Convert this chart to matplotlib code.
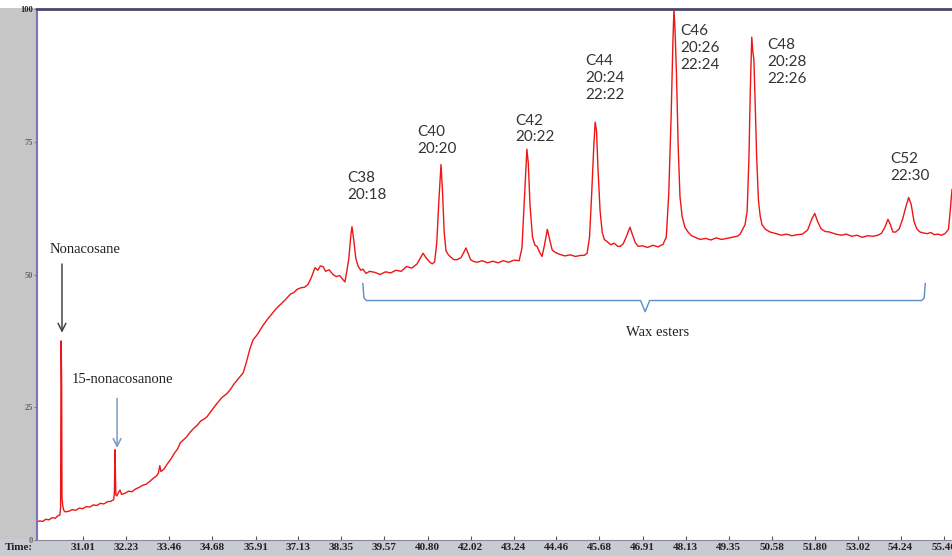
import matplotlib
matplotlib.use('Agg')
import matplotlib.pyplot as plt
from matplotlib.patches import Rectangle

# chromatogram trace (retention time in min, relative abundance)
time = [29.70, 29.78, 29.86, 29.95, 30.04, 30.13, 30.22, 30.30, 30.35,
        30.37, 30.385, 30.40, 30.41, 30.43, 30.46, 30.50,
        30.6, 30.7, 30.8, 30.9, 31.0, 31.1, 31.2, 31.3, 31.4, 31.5, 31.6, 31.7, 31.8, 31.88,
        31.90, 31.915, 31.93, 31.94, 31.97, 32.02, 32.06, 32.10, 32.2,
        32.3, 32.4, 32.5, 32.6, 32.7, 32.8, 32.9, 33.0, 33.1, 33.15, 33.19, 33.22, 33.3,
        33.4, 33.5, 33.6, 33.7, 33.77, 33.85, 33.95, 34.05, 34.15, 34.25, 34.35, 34.45, 34.53,
        34.65, 34.8, 34.95, 35.1, 35.19, 35.3, 35.45, 35.56, 35.65, 35.75, 35.84, 35.95,
        36.1, 36.24, 36.4, 36.5, 36.61, 36.75, 36.9, 37.0, 37.09, 37.2, 37.3, 37.4, 37.5,
        37.6, 37.68, 37.75, 37.83, 37.9, 38.0, 38.11, 38.2, 38.3, 38.4, 38.45,
        38.5, 38.56, 38.62, 38.65, 38.70, 38.76, 38.83, 38.9, 38.96, 39.05, 39.15, 39.3,
        39.45, 39.6, 39.75, 39.9, 40.05, 40.2, 40.35, 40.5, 40.6, 40.67, 40.75, 40.85, 40.93,
        41.0, 41.06, 41.12, 41.18, 41.22, 41.27, 41.32, 41.38, 41.45, 41.55, 41.64, 41.75,
        41.83, 41.89, 41.95, 42.02, 42.09, 42.2, 42.35, 42.5, 42.65, 42.8, 42.95, 43.1, 43.25,
        43.4, 43.48, 43.54, 43.59, 43.62, 43.66, 43.71, 43.78, 43.85, 43.91, 43.98, 44.05,
        44.12, 44.2, 44.27, 44.34, 44.42, 44.55, 44.7, 44.85, 45.0, 45.15, 45.25, 45.33,
        45.40, 45.46, 45.52, 45.56, 45.60, 45.64, 45.70, 45.76, 45.82, 45.9, 46.0, 46.1, 46.2,
        46.27, 46.36, 46.45, 46.55, 46.62, 46.7, 46.78, 46.9, 47.05, 47.2, 47.35, 47.49,
        47.58, 47.65, 47.72, 47.77, 47.80, 47.83, 47.87, 47.92, 47.97, 48.03, 48.11, 48.2,
        48.3, 48.4, 48.54, 48.7, 48.85, 49.0, 49.15, 49.3, 49.45, 49.6, 49.68, 49.75, 49.82,
        49.88, 49.93, 49.97, 50.01, 50.04, 50.07, 50.10, 50.15, 50.2, 50.25, 50.30, 50.4,
        50.53, 50.7, 50.85, 51.0, 51.15, 51.3, 51.45, 51.6, 51.72, 51.80, 51.88, 51.98, 52.1,
        52.22, 52.4, 52.55, 52.7, 52.85, 53.0, 53.15, 53.3, 53.45, 53.6, 53.7, 53.8, 53.88,
        53.95, 54.02, 54.1, 54.2, 54.3, 54.4, 54.47, 54.54, 54.62, 54.7, 54.79, 54.9, 55.0,
        55.1, 55.2, 55.3, 55.4, 55.5, 55.6, 55.65, 55.70]
abundance = [3.4, 3.6, 3.5, 3.9, 3.8, 4.2, 4.1, 4.6, 4.7,
             6.0, 37.5, 30.0, 8.0, 6.5, 5.6, 5.3,
             5.4, 5.7, 5.6, 6.0, 5.9, 6.3, 6.2, 6.6, 6.5, 6.9, 6.8, 7.2, 7.3, 7.6,
             9.0, 17.0, 12.0, 8.5, 8.3, 9.0, 9.4, 8.6, 8.8,
             9.2, 9.1, 9.6, 9.9, 10.3, 10.5, 11.0, 11.6, 12.1, 12.6, 14.0, 12.9, 13.3,
             14.3, 15.2, 16.3, 17.2, 18.3, 18.8, 19.4, 20.3, 21.0, 21.6, 22.4, 22.8, 23.2,
             24.3, 25.6, 26.8, 27.6, 28.3, 29.4, 30.6, 31.5, 33.5, 36.0, 37.7, 38.6,
             40.2, 41.5, 42.8, 43.6, 44.3, 45.2, 46.3, 46.6, 47.2, 47.5, 47.6, 48.1, 49.5,
             51.3, 50.8, 51.6, 51.5, 50.6, 50.9, 50.0, 49.6, 49.8, 49.0, 48.6,
             50.5, 53.0, 57.5, 59.0, 56.5, 53.0, 51.5, 50.8, 51.0, 50.2, 50.6, 50.4,
             50.0, 50.5, 50.3, 50.8, 50.6, 51.5, 51.2, 52.0, 53.2, 54.0, 53.2, 52.4, 52.0,
             52.4, 56.0, 64.0, 70.7, 66.0, 58.0, 54.5, 53.8, 53.3, 52.8, 52.8, 53.2,
             54.2, 55.0, 54.0, 52.8, 52.5, 52.3, 52.6, 52.2, 52.5, 52.2, 52.6, 52.3, 52.7,
             52.6, 55.0, 63.0, 70.0, 73.6, 71.0, 63.0, 57.0, 55.5, 55.3, 54.2, 53.4,
             55.5, 58.5, 56.5, 54.6, 54.2, 53.8, 53.5, 53.7, 53.4, 53.6, 53.6, 54.0,
             57.0, 65.0, 74.0, 78.7, 77.0, 70.0, 62.0, 58.0, 56.6, 56.2, 55.6, 55.9, 55.3,
             55.3, 55.8, 57.2, 58.9, 57.5, 56.0, 55.3, 55.4, 55.1, 55.5, 55.2, 55.7,
             57.0, 65.0, 80.0, 94.0, 100.0, 96.0, 88.0, 74.0, 64.7, 61.0, 58.9, 58.0,
             57.3, 57.0, 56.6, 56.8, 56.5, 56.9, 56.6, 56.8, 57.0, 57.2, 57.6, 58.5, 59.4,
             62.0, 72.0, 85.0, 94.7, 92.0, 90.5, 84.0, 72.0, 64.0, 61.0, 59.4, 58.5,
             58.0, 57.7, 57.4, 57.6, 57.3, 57.5, 57.6, 58.4, 60.5, 61.5, 60.0, 58.6, 58.1,
             58.0, 57.6, 57.4, 57.6, 57.2, 57.4, 57.0, 57.3, 57.2, 57.4, 57.8, 59.0, 60.4,
             59.4, 58.0, 58.0, 58.6, 60.5, 63.0, 64.5, 63.2, 60.0, 58.6, 58.0, 57.8, 57.7,
             57.9, 57.5, 57.6, 57.4, 57.7, 58.5, 62.0, 66.0]

x_ticks = [31.01, 32.23, 33.46, 34.68, 35.91, 37.13, 38.35, 39.57, 40.80, 42.02, 43.24,
           44.46, 45.68, 46.91, 48.13, 49.35, 50.58, 51.80, 53.02, 54.24, 55.46]
y_ticks = [0, 25, 50, 75, 100]

# peak labels: (text, left time, top abundance)
peak_labels = ['C38\n20:18', 'C40\n20:20', 'C42\n20:22', 'C44\n20:24\n22:22',
               'C46\n20:26\n22:24', 'C48\n20:28\n22:26', 'C52\n22:30']
peak_label_t = [38.51, 40.50, 43.28, 45.27, 47.97, 50.44, 53.94]
peak_label_y = [69.4, 78.2, 80.3, 91.5, 97.1, 94.5, 73.1]

fig = plt.figure(figsize=(9.52, 5.56), dpi=100)
fig.patch.set_facecolor('white')
# grey frame strips of the instrument software
fig.patches.append(Rectangle((0, 0), 37 / 952, 1 - 8 / 556, transform=fig.transFigure,
                             facecolor='#c6c6c6', edgecolor='none', zorder=-1))
fig.patches.append(Rectangle((0, 0), 1, 17 / 556, transform=fig.transFigure,
                             facecolor='#c8cbd2', edgecolor='none', zorder=-1))

ax = fig.add_axes([37 / 952, 1 - 540 / 556, 1 - 37 / 952, 531 / 556])
ax.plot(time, abundance, color='#ee1515', lw=1.0)
ax.set_xlim(29.70, 55.70)
ax.set_ylim(0, 100)

ax.set_xticks(x_ticks)
ax.set_xticklabels([f'{v:.2f}' for v in x_ticks], fontfamily='Liberation Serif',
                   fontweight='bold', fontsize=8, color='#222222')
ax.tick_params(axis='x', direction='in', length=3, pad=2, color='#555555')
ax.set_yticks(y_ticks)
ax.set_yticklabels([str(v) for v in y_ticks], fontfamily='Liberation Serif',
                   fontweight='bold', fontsize=6, color='#666666')
ax.tick_params(axis='y', direction='out', length=2, pad=1, color='#777777')
ax.get_yticklabels()[-1].set_color('#222222')

ax.spines['right'].set_visible(False)
ax.spines['top'].set_color('#4b4868')
ax.spines['top'].set_linewidth(2)
ax.spines['left'].set_color('#7c74b8')
ax.spines['left'].set_linewidth(1.5)
ax.spines['bottom'].set_color('#8a8a9a')

fig.text(5 / 952, 1 - 548 / 556, 'Time:', fontfamily='Liberation Serif', fontweight='bold',
         fontsize=8, color='#222222', va='center')

# peak labels
for lab, t, y in zip(peak_labels, peak_label_t, peak_label_y):
    ax.text(t, y, lab, fontfamily='Lato', fontsize=11, color='#333333',
            ha='left', va='top', linespacing=1.25)

# compound arrows
ax.text(30.07, 54.7, 'Nonacosane', fontfamily='Liberation Serif', fontsize=10.5,
        color='#222222', va='center')
ax.annotate('', xy=(30.41, 38.5), xytext=(30.41, 52.5),
            arrowprops=dict(arrowstyle='->', color='#444444', lw=1.1, mutation_scale=14))
ax.text(30.70, 30.2, '15-nonacosanone', fontfamily='Liberation Serif', fontsize=10.5,
        color='#222222', va='center')
ax.annotate('', xy=(31.976, 16.8), xytext=(31.976, 27.2),
            arrowprops=dict(arrowstyle='->', color='#7a9cc0', lw=1.1, mutation_scale=14))

# wax ester bracket
br_left, br_right, br_mid = 38.96, 54.94, 46.98
br_y, br_top, br_tip = 45.1, 48.3, 43.0
ax.plot([br_left, br_left + 0.03, br_left + 0.1, br_mid - 0.13, br_mid, br_mid + 0.13,
         br_right - 0.1, br_right - 0.03, br_right],
        [br_top, br_y + 0.5, br_y, br_y, br_tip, br_y, br_y, br_y + 0.5, br_top],
        color='#5b8cc8', lw=1.0)
ax.text(47.32, 39.0, 'Wax esters', fontfamily='Liberation Serif', fontsize=10.5,
        color='#222222', ha='center', va='center')

fig.savefig('out.png', dpi=100, facecolor=fig.get_facecolor())
